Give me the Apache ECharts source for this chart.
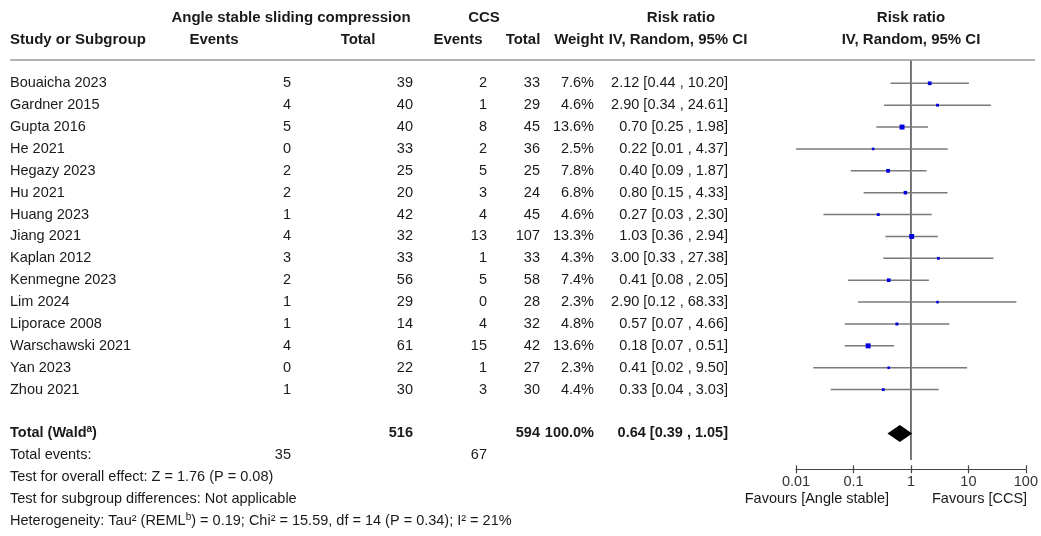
<!DOCTYPE html>
<html><head><meta charset="utf-8">
<script src="https://cdn.jsdelivr.net/npm/echarts@6/dist/echarts.min.js"></script>
<style>html,body{margin:0;padding:0;background:#fff}#c{width:1041px;height:536px}</style>
</head><body><div id="c"></div>
<script>
// ---------- data ----------
const studies = ['Bouaicha 2023','Gardner 2015','Gupta 2016','He 2021','Hegazy 2023','Hu 2021','Huang 2023','Jiang 2021','Kaplan 2012','Kenmegne 2023','Lim 2024','Liporace 2008','Warschawski 2021','Yan 2023','Zhou 2021'];
const expEvents = [5,4,5,0,2,2,1,4,3,2,1,1,4,0,1];
const expTotal  = [39,40,40,33,25,20,42,32,33,56,29,14,61,22,30];
const ctlEvents = [2,1,8,2,5,3,4,13,1,5,0,4,15,1,3];
const ctlTotal  = [33,29,45,36,25,24,45,107,33,58,28,32,42,27,30];
const weights   = [7.6,4.6,13.6,2.5,7.8,6.8,4.6,13.3,4.3,7.4,2.3,4.8,13.6,2.3,4.4];
const rr        = [2.12,2.90,0.70,0.22,0.40,0.80,0.27,1.03,3.00,0.41,2.90,0.57,0.18,0.41,0.33];
const ciLow     = [0.44,0.34,0.25,0.01,0.09,0.15,0.03,0.36,0.33,0.08,0.12,0.07,0.07,0.02,0.04];
const ciHigh    = [10.20,24.61,1.98,4.37,1.87,4.33,2.30,2.94,27.38,2.05,68.33,4.66,0.51,9.50,3.03];
const totalExp = 516, totalCtl = 594, totalWeight = '100.0%';
const totalEventsExp = 35, totalEventsCtl = 67;
const pooledRR = 0.64, pooledLow = 0.39, pooledHigh = 1.05;
const axisTicks = [0.01, 0.1, 1, 10, 100];
const tickLabels = ['0.01','0.1','1','10','100'];
const footerLines = [
  'Test for overall effect: Z = 1.76 (P = 0.08)',
  'Test for subgroup differences: Not applicable',
  'Heterogeneity: Tau² (REML{sup|b}) = 0.19; Chi² = 15.59, df = 14 (P = 0.34); I² = 21%'
];

// ---------- layout ----------
const FONT = "'Liberation Sans', Arial, Helvetica, sans-serif";
const FS = 14.5, FSH = 15;
const ROW0 = 83.3, ROWH = 21.88;
const H = 536, W = 1041;
const rowAt = px => (px - ROW0) / ROWH;
const studyRows = studies.map((_, i) => i);
const TXT = '#1a1a1a';
const sup = {sup: {fontSize: 10, verticalAlign: 'top', fontFamily: FONT, fill: TXT}};
const supB = {sup: {fontSize: 10, verticalAlign: 'top', fontFamily: FONT, fontWeight: 'bold', fill: TXT}};

function textSeries(x, rows, texts, align, opts) {
  opts = opts || {};
  return {
    type: 'custom', xAxisIndex: 2, yAxisIndex: 1, silent: true, clip: false,
    data: rows.map(r => [x, r]),
    renderItem(params, api) {
      const p = api.coord([api.value(0), api.value(1)]);
      return {
        type: 'text', x: p[0], y: p[1],
        style: {
          text: String(texts[params.dataIndex]),
          align: align, verticalAlign: 'middle',
          textAlign: align, textVerticalAlign: 'middle',
          fontSize: opts.size || FS, fontFamily: FONT,
          fontWeight: opts.bold ? 'bold' : 'normal',
          fill: opts.color || TXT,
          lineHeight: 18,
          rich: opts.rich
        }
      };
    }
  };
}
const fmt2 = v => v.toFixed(2);
const ciText = studies.map((_, i) => `${fmt2(rr[i])} [${fmt2(ciLow[i])} , ${fmt2(ciHigh[i])}]`);

const C = {study: 10, e1: 291, t1: 413, e2: 487, t2: 540, w: 594, ci: 728};
const series = [];
const hb = {bold: true, size: FSH};
// headers
series.push(textSeries(291, [-3], ['Angle stable sliding compression'], 'center', hb));
series.push(textSeries(484, [-3], ['CCS'], 'center', hb));
series.push(textSeries(681, [-3], ['Risk ratio'], 'center', hb));
series.push(textSeries(911, [-3], ['Risk ratio'], 'center', hb));
series.push(textSeries(10, [-2], ['Study or Subgroup'], 'left', hb));
series.push(textSeries(214, [-2], ['Events'], 'center', hb));
series.push(textSeries(358, [-2], ['Total'], 'center', hb));
series.push(textSeries(458, [-2], ['Events'], 'center', hb));
series.push(textSeries(523, [-2], ['Total'], 'center', hb));
series.push(textSeries(579, [-2], ['Weight'], 'center', hb));
series.push(textSeries(678, [-2], ['IV, Random, 95% CI'], 'center', hb));
series.push(textSeries(911, [-2], ['IV, Random, 95% CI'], 'center', hb));
// study rows
series.push(textSeries(C.study, studyRows, studies, 'left'));
series.push(textSeries(C.e1, studyRows, expEvents, 'right'));
series.push(textSeries(C.t1, studyRows, expTotal, 'right'));
series.push(textSeries(C.e2, studyRows, ctlEvents, 'right'));
series.push(textSeries(C.t2, studyRows, ctlTotal, 'right'));
series.push(textSeries(C.w, studyRows, weights.map(w => w.toFixed(1) + '%'), 'right'));
series.push(textSeries(C.ci, studyRows, ciText, 'right'));
// total rows
series.push(textSeries(C.study, [16], ['Total (Wald{sup|a})'], 'left', {bold: true, rich: supB}));
series.push(textSeries(C.t1, [16], [totalExp], 'right', {bold: true}));
series.push(textSeries(C.t2, [16], [totalCtl], 'right', {bold: true}));
series.push(textSeries(C.w, [16], [totalWeight], 'right', {bold: true}));
series.push(textSeries(C.ci, [16], [`${fmt2(pooledRR)} [${fmt2(pooledLow)} , ${fmt2(pooledHigh)}]`], 'right', {bold: true}));
series.push(textSeries(C.study, [17], ['Total events:'], 'left'));
series.push(textSeries(C.e1, [17], [totalEventsExp], 'right'));
series.push(textSeries(C.e2, [17], [totalEventsCtl], 'right'));
series.push(textSeries(C.study, [18, 19, 20], footerLines, 'left', {rich: sup}));
// favours
series.push(textSeries(889, [19], ['Favours [Angle stable]'], 'right'));
series.push(textSeries(932, [19], ['Favours [CCS]'], 'left'));

// header rule
series.push({
  type: 'custom', xAxisIndex: 2, yAxisIndex: 1, silent: true, clip: false,
  data: [[10, rowAt(60)]],
  renderItem(params, api) {
    const p = api.coord([api.value(0), api.value(1)]);
    return {type: 'line', shape: {x1: p[0], y1: p[1], x2: 1035, y2: p[1]},
      style: {stroke: '#9a9a9a', lineWidth: 1.5}};
  }
});

// line of no effect
series.push({
  type: 'custom', xAxisIndex: 0, yAxisIndex: 0, silent: true, clip: false, z: 1,
  data: [[1]],
  renderItem(params, api) {
    const a = api.coord([1, rowAt(60)]);
    const b = api.coord([1, rowAt(460)]);
    return {type: 'line', shape: {x1: a[0], y1: a[1], x2: b[0], y2: b[1]},
      style: {stroke: '#555', lineWidth: 1.6}};
  }
});

// study CIs and squares
series.push({
  type: 'custom', xAxisIndex: 0, yAxisIndex: 0, silent: true, clip: false, z: 2,
  data: studies.map((_, i) => [ciLow[i], ciHigh[i], rr[i], i, weights[i]]),
  renderItem(params, api) {
    const row = api.value(3);
    const a = api.coord([api.value(0), row]);
    const b = api.coord([api.value(1), row]);
    const c = api.coord([api.value(2), row]);
    const s = Math.max(2.6, 1.35 * Math.sqrt(api.value(4)));
    return {type: 'group', children: [
      {type: 'line', shape: {x1: a[0], y1: a[1], x2: b[0], y2: b[1]},
        style: {stroke: '#7a7a7a', lineWidth: 1.5}},
      {type: 'rect', shape: {x: c[0] - s / 2, y: c[1] - s / 2, width: s, height: s},
        style: {fill: '#0000e0'}}
    ]};
  }
});

// pooled diamond
series.push({
  type: 'custom', xAxisIndex: 0, yAxisIndex: 0, silent: true, clip: false, z: 3,
  data: [[pooledLow, pooledRR, pooledHigh, 16]],
  renderItem(params, api) {
    const row = api.value(3);
    const l = api.coord([api.value(0), row]);
    const m = api.coord([api.value(1), row]);
    const r = api.coord([api.value(2), row]);
    const h = 8.5;
    return {type: 'polygon', shape: {points: [[l[0], l[1]], [m[0], m[1] - h], [r[0], r[1]], [m[0], m[1] + h]]},
      style: {fill: '#000'}};
  }
});

const chart = echarts.init(document.getElementById('c'), null, {renderer: 'canvas'});
const plotLeft = 796, plotRight = 1026, plotTop = 60, plotBottom = 469.3;
const tickFmt = v => { const k = axisTicks.findIndex(t => Math.abs(Math.log10(t) - Math.log10(v)) < 1e-6); return k >= 0 ? tickLabels[k] : ''; };
chart.setOption({
  animation: false,
  backgroundColor: '#fff',
  grid: [
    {left: plotLeft, top: plotTop, width: plotRight - plotLeft, height: plotBottom - plotTop, containLabel: false},
    {left: 0, top: 0, width: W, height: H, containLabel: false}
  ],
  xAxis: [
    {gridIndex: 0, type: 'log', logBase: 10, min: axisTicks[0], max: axisTicks[axisTicks.length - 1], position: 'bottom',
      axisLine: {show: true, onZero: false, lineStyle: {color: '#444', width: 1.2}},
      axisTick: {show: true, length: 4, lineStyle: {color: '#444', width: 1.2}},
      axisLabel: {show: true, margin: 5, fontSize: FS, fontFamily: FONT, color: '#333', formatter: tickFmt},
      splitLine: {show: false}},
    {gridIndex: 0, type: 'log', logBase: 10, min: axisTicks[0], max: axisTicks[axisTicks.length - 1], position: 'bottom',
      axisLine: {show: false, onZero: false},
      axisTick: {show: true, inside: true, length: 4, lineStyle: {color: '#444', width: 1.2}},
      axisLabel: {show: false}, splitLine: {show: false}},
    {gridIndex: 1, type: 'value', min: 0, max: W, show: false}
  ],
  yAxis: [
    {gridIndex: 0, type: 'value', inverse: true, min: rowAt(plotTop), max: rowAt(plotBottom), show: false},
    {gridIndex: 1, type: 'value', inverse: true, min: rowAt(0), max: rowAt(H), show: false}
  ],
  series: series
});
</script>
</body></html>
